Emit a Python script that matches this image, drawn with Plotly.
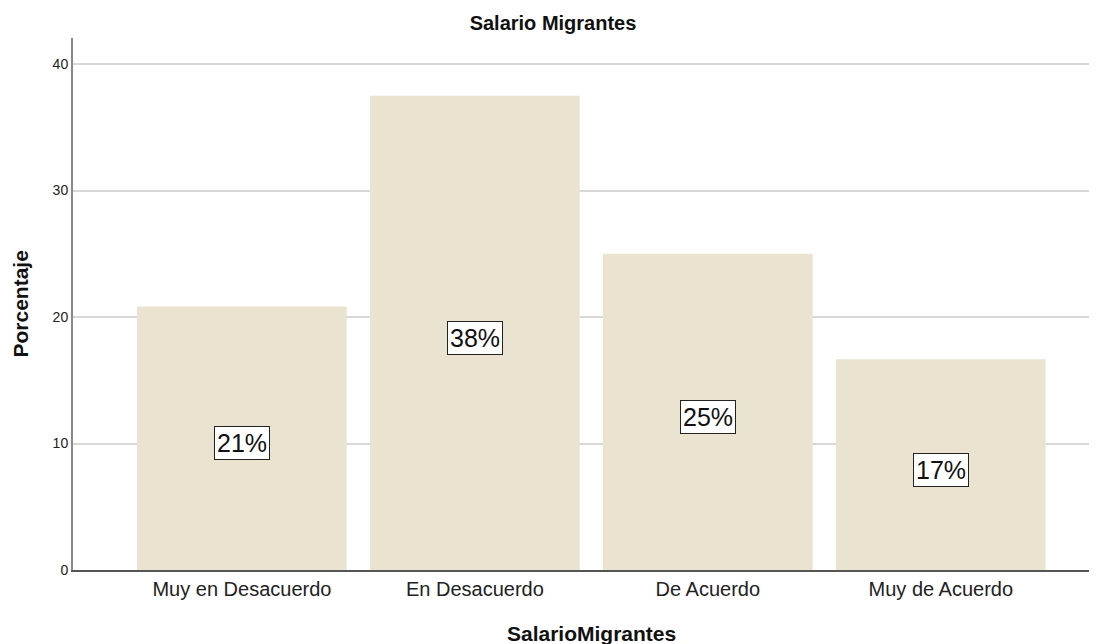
import plotly.graph_objects as go

categories = ['Muy en Desacuerdo', 'En Desacuerdo', 'De Acuerdo', 'Muy de Acuerdo']
percent = [20.83, 37.5, 25.0, 16.67]
labels = ['21%', '38%', '25%', '17%']

font = 'Arial, Liberation Sans, sans-serif'
W, H = 1081, 636

fig = go.Figure()
fig.add_trace(go.Bar(x=categories, y=percent, width=0.9,
                     marker=dict(color='#E9E3D0', line=dict(width=0)),
                     hoverinfo='skip'))

# boxed percentage labels in the middle of each bar
for cat, val, lab in zip(categories, percent, labels):
    fig.add_annotation(x=cat, y=val / 2, text=lab, showarrow=False, yshift=-5,
                       font=dict(family=font, size=25, color='#111'),
                       bgcolor='white', bordercolor='#222', borderwidth=1, borderpad=2)

# axis titles
fig.add_annotation(text='<b>SalarioMigrantes</b>', xref='paper', yref='paper', x=0.5, y=0,
                   xshift=10, yshift=-77, showarrow=False,
                   font=dict(family=font, size=21, color='#111'))
fig.add_annotation(text='<b>Porcentaje</b>', xref='paper', yref='paper', x=0, y=0.5,
                   xshift=-67, yshift=0, textangle=-90, showarrow=False,
                   font=dict(family=font, size=21, color='#111'))

fig.update_layout(
    width=W, height=H,
    margin=dict(l=65, r=0, t=30, b=74, autoexpand=False),
    paper_bgcolor='white', plot_bgcolor='white',
    showlegend=False,
    title=dict(text='<b>Salario Migrantes</b>', xref='container', x=545 / W, xanchor='center',
               yref='container', y=1 - 15 / H, yanchor='middle',
               font=dict(family=font, size=20, color='#111')),
    xaxis=dict(range=[-0.725, 3.636], showgrid=False, showline=True, linecolor='#555', linewidth=1.5,
               ticks='', automargin=False, tickfont=dict(family=font, size=20, color='#222')),
    yaxis=dict(range=[0, 42.06], tickvals=[0, 10, 20, 30, 40], showgrid=True, gridcolor='#d8d8d8', gridwidth=2,
               showline=True, linecolor='#888', linewidth=2, zeroline=False, ticks='', automargin=False,
               tickfont=dict(family=font, size=14, color='#222')),
)

fig.write_html('out.html')
